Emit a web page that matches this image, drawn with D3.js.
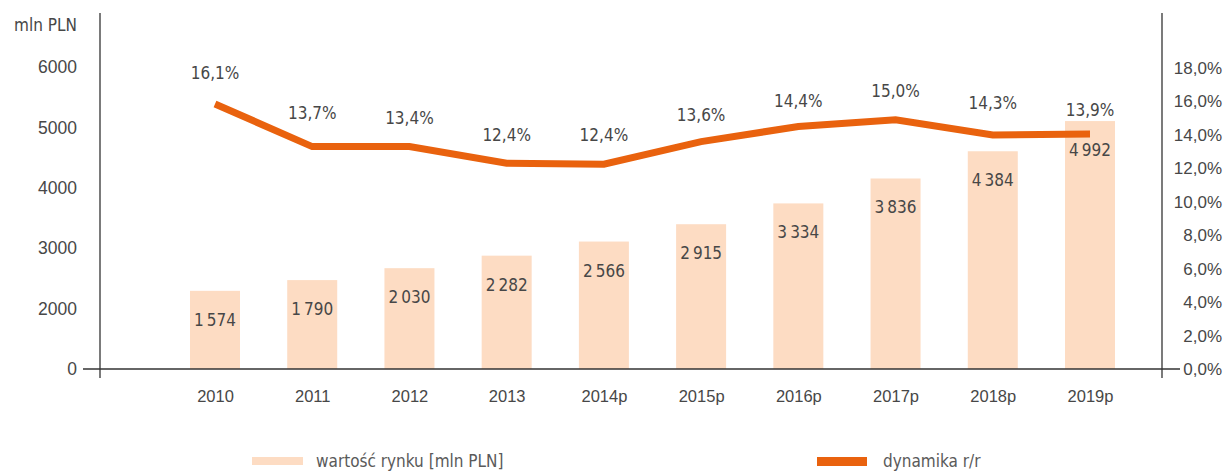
<!DOCTYPE html>
<html>
<head>
<meta charset="utf-8">
<script src="https://cdn.jsdelivr.net/npm/d3@7"></script>
<style>
  body { margin: 0; background: #fff; }
  svg { display: block; font-family: "Liberation Sans Narrow", "DejaVu Sans Condensed", sans-serif; }
</style>
</head>
<body>
<div id="chart"></div>
<script>
// dane wykresu
const years = ["2010", "2011", "2012", "2013", "2014p", "2015p", "2016p", "2017p", "2018p", "2019p"];
const marketValue = [1574, 1790, 2030, 2282, 2566, 2915, 3334, 3836, 4384, 4992];
const dynamikaLabels = [16.1, 13.7, 13.4, 12.4, 12.4, 13.6, 14.4, 15.0, 14.3, 13.9];
// przebieg linii (nie pokrywa się dokładnie z etykietami)
const dynamikaLine = [15.85, 13.3, 13.3, 12.3, 12.25, 13.6, 14.5, 14.9, 14.0, 14.05];
const leftTickLabels = ["0", "2000", "3000", "4000", "5000", "6000"];
const rightTicks = [0, 2, 4, 6, 8, 10, 12, 14, 16, 18];

const width = 1226;
const height = 473;
const baseY = 369;
const axisLeftX = 100;
const axisRightX = 1162;

const barColor = "#fddcc3";
const lineColor = "#e9620e";
const textColor = "#474747";

const pl = d3.formatLocale({ decimal: ",", thousands: "\u2009", grouping: [3], currency: ["", " zł"] });
const fmtThousands = pl.format(",d");
const fmtPct = pl.format(".1f");

const svg = d3.select("#chart").append("svg")
    .attr("width", width)
    .attr("height", height)
    .attr("viewBox", [0, 0, width, height]);

const x = d3.scalePoint()
    .domain(years)
    .range([215, 1090]);

const yBar = d3.scaleLinear()
    .domain([0, 6000])
    .range([baseY, 71]);

const yLeft = d3.scaleLinear()
    .domain([0, leftTickLabels.length - 1])
    .range([baseY, 67]);

const yPct = d3.scaleLinear()
    .domain([0, 18])
    .range([baseY, 68]);

const barWidth = 50;

// słupki
svg.append("g")
    .selectAll("rect")
    .data(marketValue)
    .join("rect")
    .attr("x", (d, i) => x(years[i]) - barWidth / 2)
    .attr("y", d => yBar(d))
    .attr("width", barWidth)
    .attr("height", d => baseY - yBar(d))
    .attr("fill", barColor);

// etykiety słupków
svg.append("g")
    .attr("font-size", "17px")
    .attr("fill", textColor)
    .attr("text-anchor", "middle")
    .selectAll("text")
    .data(marketValue)
    .join("text")
    .attr("x", (d, i) => x(years[i]))
    .attr("y", d => yBar(d) + 35)
    .text(d => fmtThousands(d));

// osie
svg.append("line")
    .attr("x1", 83).attr("x2", 1180)
    .attr("y1", baseY).attr("y2", baseY)
    .attr("stroke", "#333").attr("stroke-width", 1.3);

[axisLeftX, axisRightX].forEach(ax => {
    svg.append("line")
        .attr("x1", ax).attr("x2", ax)
        .attr("y1", 13).attr("y2", 378)
        .attr("stroke", "#333").attr("stroke-width", 1.3);
});

svg.append("g")
    .attr("transform", `translate(77,0)`)
    .call(d3.axisLeft(yLeft).tickValues(d3.range(leftTickLabels.length)).tickSize(0).tickPadding(0)
        .tickFormat(i => leftTickLabels[i]))
    .call(g => g.select(".domain").remove())
    .call(g => g.selectAll("text").attr("font-size", "17.5px").attr("fill", textColor).attr("font-family", null));

svg.append("g")
    .attr("transform", `translate(1178,0)`)
    .call(d3.axisRight(yPct).tickValues(rightTicks).tickSize(0).tickPadding(0)
        .tickFormat(d => fmtPct(d) + "%"))
    .call(g => g.select(".domain").remove())
    .call(g => g.selectAll("text").attr("font-size", "17px").attr("fill", textColor).attr("font-family", null)
        .attr("text-anchor", "end").attr("x", 44));

svg.append("g")
    .attr("transform", `translate(0,${baseY})`)
    .call(d3.axisBottom(x).tickSize(0).tickPadding(21))
    .call(g => g.select(".domain").remove())
    .call(g => g.selectAll("text").attr("font-size", "16.5px").attr("fill", textColor).attr("font-family", null));

svg.append("text")
    .attr("x", 77)
    .attr("y", 31)
    .attr("text-anchor", "end")
    .attr("font-size", "17px")
    .attr("fill", textColor)
    .text("mln PLN");

// linia dynamiki
const line = d3.line()
    .x((d, i) => x(years[i]))
    .y(d => yPct(d));

svg.append("path")
    .datum(dynamikaLine)
    .attr("fill", "none")
    .attr("stroke", lineColor)
    .attr("stroke-width", 7)
    .attr("stroke-linejoin", "miter")
    .attr("d", line);

svg.append("g")
    .attr("font-size", "17px")
    .attr("fill", textColor)
    .attr("text-anchor", "middle")
    .selectAll("text")
    .data(dynamikaLabels)
    .join("text")
    .attr("x", (d, i) => x(years[i]))
    .attr("y", d => yPct(d) - 21)
    .text(d => fmtPct(d) + "%");

// legenda
const legend = svg.append("g").attr("font-size", "17px").attr("fill", "#5a5a5a");

legend.append("rect")
    .attr("x", 252).attr("y", 457).attr("width", 51).attr("height", 8)
    .attr("fill", barColor);
legend.append("text")
    .attr("x", 316).attr("y", 467)
    .text("wartość rynku [mln PLN]");

legend.append("rect")
    .attr("x", 817).attr("y", 457).attr("width", 50).attr("height", 9)
    .attr("fill", lineColor);
legend.append("text")
    .attr("x", 883).attr("y", 467)
    .text("dynamika r/r");
</script>
</body>
</html>
